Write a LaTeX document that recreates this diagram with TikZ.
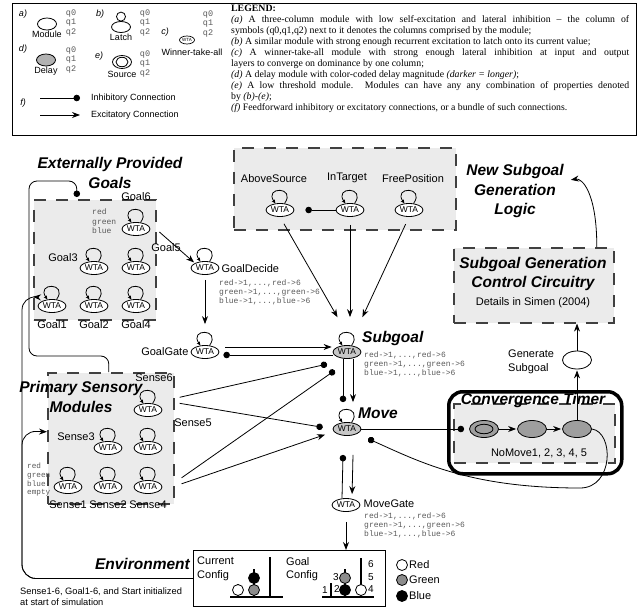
\documentclass[tikz,border=0pt]{standalone}
\usepackage{fontspec}
\setmainfont{Liberation Serif}
\setsansfont{Liberation Sans}
\setmonofont{Liberation Mono}
\usetikzlibrary{positioning,arrows.meta,shapes.geometric}

\tikzset{
  wta/.style={ellipse, draw, line width=0.8pt, fill=white, inner sep=0pt,
    minimum width=28pt, minimum height=13pt, font=\sffamily\fontsize{8.5}{9}\selectfont},
  slowwta/.style={wta, fill=black!22},
  delaymod/.style={ellipse, draw, line width=0.8pt, fill=black!38,
    minimum width=29pt, minimum height=17pt},
  panel/.style={draw=black!75, line width=1.6pt, dash pattern=on 12pt off 10pt, fill=black!8},
  heading/.style={font=\sffamily\bfseries\itshape\fontsize{15.5}{19.5}\selectfont, align=center, inner sep=1pt},
  lbl/.style={font=\sffamily\fontsize{11}{13.5}\selectfont, inner sep=1pt},
  legtxt/.style={font=\sffamily\fontsize{9}{10}\selectfont, inner sep=1pt},
  code/.style={font=\ttfamily\fontsize{8}{9.3}\selectfont, text=black!65, align=left, inner sep=0pt, anchor=north west},
  qcol/.style={font=\ttfamily\fontsize{8.5}{9.7}\selectfont, text=black!65, align=center, inner sep=0pt},
  exc/.style={-{Stealth[length=8pt,width=6pt]}, line width=0.8pt, shorten >=1pt},
  inh/.style={-{Circle[length=6.5pt]}, line width=0.8pt, shorten >=4pt},
  selfloop/.style={-{Stealth[length=4pt,width=3.5pt]}, line width=0.8pt},
}

\begin{document}
\begin{tikzpicture}[x=1pt, y=-1pt]
  \useasboundingbox (0,0) rectangle (639,610);

  % legend
  \node[draw, line width=1.4pt, anchor=north west, minimum width=624pt, minimum height=132pt] (legend) at (12,3) {};
  \node[anchor=north west, inner sep=0pt, text width=398pt, align=justify,
    font=\fontsize{9.8}{11}\selectfont] (legendText) at (231,5) {\parindent=0pt
    \textbf{LEGEND:}\par
    \textit{(a)} A three-column module with low self-excitation and lateral inhibition -- the column of\linebreak
    symbols (q0,q1,q2) next to it denotes the columns comprised by the module;\par
    \textit{(b)} A similar module with strong enough recurrent excitation to latch onto its current value;\par
    \textit{(c)} A winner-take-all module with strong enough lateral inhibition at input and output\linebreak
    layers to converge on dominance by one column;\par
    \textit{(d)} A delay module with color-coded delay magnitude \textit{(darker = longer)};\par
    \textit{(e)} A low threshold module. Modules can have any any combination of properties denoted\linebreak
    by \textit{(b)-(e)};\par
    \textit{(f)} Feedforward inhibitory or excitatory connections, or a bundle of such connections.};

  \node[legtxt, font=\sffamily\itshape\fontsize{9}{10}\selectfont] at (23,14) {a)};
  \node[ellipse, draw, line width=0.8pt, minimum width=19pt, minimum height=12pt] (lgModule) at (47,24) {};
  \node[legtxt] at (47,34) {Module};
  \node[qcol] at (71,23) {q0\\q1\\q2};
  \node[legtxt, font=\sffamily\itshape\fontsize{9}{10}\selectfont] at (100,14) {b)};
  \node[ellipse, draw, line width=0.8pt, minimum width=19pt, minimum height=11pt] (lgLatch) at (121,27) {};
  \draw[line width=0.8pt] ([yshift=4.5pt]lgLatch.north) circle[radius=4.5pt];
  \node[legtxt] at (121,37) {Latch};
  \node[qcol] at (145,23) {q0\\q1\\q2};
  \node[legtxt, font=\sffamily\itshape\fontsize{9}{10}\selectfont] at (165,32) {c)};
  \node[ellipse, draw, line width=0.7pt, inner sep=0pt, minimum width=15pt, minimum height=8pt,
    font=\sffamily\fontsize{4.5}{5}\selectfont] (lgWta) at (187,40) {WTA};
  \node[legtxt] at (192,52) {Winner-take-all};
  \node[qcol] at (208,24) {q0\\q1\\q2};
  \node[legtxt, font=\sffamily\itshape\fontsize{9}{10}\selectfont] at (23,49) {d)};
  \node[ellipse, draw, line width=0.8pt, fill=black!30, minimum width=19pt, minimum height=12pt] (lgDelay) at (46,60) {};
  \node[legtxt] at (46,71) {Delay};
  \node[qcol] at (71,60) {q0\\q1\\q2};
  \node[legtxt, font=\sffamily\itshape\fontsize{9}{10}\selectfont] at (99,56) {e)};
  \node[ellipse, draw, line width=0.8pt, minimum width=19pt, minimum height=13pt] (lgSource) at (122,62) {};
  \node[ellipse, draw, line width=0.8pt, minimum width=12pt, minimum height=7pt] at (lgSource) {};
  \node[legtxt] at (122,74) {Source};
  \node[qcol] at (145,64) {q0\\q1\\q2};
  \node[legtxt, font=\sffamily\itshape\fontsize{9}{10}\selectfont] at (23,103) {f)};
  \coordinate (inhA) at (40,98);
  \coordinate (inhB) at (80,98);
  \coordinate (excA) at (40,115);
  \coordinate (excB) at (80,115);
  \draw[inh, shorten >=0pt] (inhA) -- (inhB);
  \draw[exc, shorten >=0pt] (excA) -- (excB);
  \node[legtxt, anchor=west] at (90,98) {Inhibitory Connection};
  \node[legtxt, anchor=west] at (90,115) {Excitatory Connection};

  % panels
  \node[panel, anchor=north west, minimum width=122pt, minimum height=120pt] (goals) at (33,199) {};
  \node[panel, anchor=north west, minimum width=126pt, minimum height=131pt] (senses) at (47,372) {};
  \node[panel, anchor=north west, minimum width=222pt, minimum height=82pt] (conds) at (233,147) {};
  \node[panel, anchor=north west, minimum width=160pt, minimum height=75pt] (ctrl) at (453,247) {};
  \node[draw, line width=3.5pt, rounded corners=14pt, anchor=north west,
    minimum width=173pt, minimum height=82pt] (timerFrame) at (447,390) {};
  \node[panel, anchor=north west, minimum width=161pt, minimum height=59pt] (timerBox) at (453,403) {};
  \node[draw, line width=1pt, anchor=north west, minimum width=192pt, minimum height=56pt] (env) at (193,550) {};

  % titles
  \node[heading] at (110,173) {Externally Provided\\Goals};
  \node[heading] at (81,397) {Primary Sensory\\Modules};
  \node[heading] (newGoal) at (515,191) {New Subgoal\\Generation\\Logic};
  \node[heading] at (533,274) {Subgoal Generation\\Control Circuitry};
  \node[lbl] at (533,303) {Details in Simen (2004)};
  \node[heading] at (533,400) {Convergence Timer};
  \node[heading, anchor=east] at (191,564) {Environment};
  \node[heading, anchor=west] at (361,338) {Subgoal};
  \node[heading, anchor=west] at (357,413) {Move};

  % goal modules
  \node[wta] (goal1) at (52,306) {WTA};
  \node[wta] (goal2) at (94,306) {WTA};
  \node[wta] (goal3) at (94,268) {WTA};
  \node[wta] (goal4) at (136,306) {WTA};
  \node[wta] (goal5) at (136,268) {WTA};
  \node[wta] (goal6) at (136,229) {WTA};
  \node[lbl] at (136,197) {Goal6};
  \node[lbl] at (166,248) {Goal5};
  \node[lbl] at (63,258) {Goal3};
  \node[lbl, below=6pt of goal1] {Goal1};
  \node[lbl, below=6pt of goal2] {Goal2};
  \node[lbl, below=6pt of goal4] {Goal4};
  \node[code] at (92,209) {red\\green\\blue};

  % sensory modules
  \node[wta] (sense1) at (68,487) {WTA};
  \node[wta] (sense2) at (108,487) {WTA};
  \node[wta] (sense3) at (108,448) {WTA};
  \node[wta] (sense4) at (148,487) {WTA};
  \node[wta] (sense5) at (148,448) {WTA};
  \node[wta] (sense6) at (148,410) {WTA};
  \node[lbl] at (154,378) {Sense6};
  \node[lbl] at (193,423) {Sense5};
  \node[lbl] at (76,437) {Sense3};
  \node[lbl, below=6pt of sense1] {Sense1};
  \node[lbl, below=6pt of sense2] {Sense2};
  \node[lbl, below=6pt of sense4] {Sense4};
  \node[code, font=\ttfamily\fontsize{7.7}{8.7}\selectfont] at (27,463) {red\\green\\blue\\empty};

  % conditions
  \node[wta] (aboveSrc) at (280,210) {WTA};
  \node[wta] (inTarget) at (350,210) {WTA};
  \node[wta] (freePos) at (409,210) {WTA};
  \node[lbl, above=19pt of aboveSrc, xshift=-6pt] {AboveSource};
  \node[lbl, above=19pt of inTarget, xshift=-3pt] {InTarget};
  \node[lbl, above=19pt of freePos, xshift=4pt] {FreePosition};

  % goal selection and moves
  \node[wta] (goalDecide) at (205,268) {WTA};
  \node[lbl, right=1pt of goalDecide, yshift=-1pt] {GoalDecide};
  \node[code] at (219,279) {red->1,...,red->6\\green->1,...,green->6\\blue->1,...,blue->6};
  \node[wta] (goalGate) at (205,352) {WTA};
  \node[lbl, left=1pt of goalGate] {GoalGate};
  \node[slowwta] (subgoal) at (347,352) {WTA};
  \node[code] at (364,351) {red->1,...,red->6\\green->1,...,green->6\\blue->1,...,blue->6};
  \node[slowwta] (move) at (347,429) {WTA};
  \node[wta] (moveGate) at (346,505) {WTA};
  \node[lbl, right=2pt of moveGate, yshift=1pt] {MoveGate};
  \node[code] at (364,512) {red->1,...,red->6\\green->1,...,green->6\\blue->1,...,blue->6};
  \coordinate (subTop) at ([yshift=27pt]subgoal.north);

  % timer
  \node[delaymod] (t1) at (484,429) {};
  \node[ellipse, draw, line width=0.8pt, fill=black!38, minimum width=18pt, minimum height=9pt] at (t1) {};
  \node[delaymod] (t2) at (532,429) {};
  \node[delaymod] (t3) at (577,429) {};
  \node[lbl] at (539,453) {NoMove1, 2, 3, 4, 5};
  \node[ellipse, draw, line width=0.8pt, fill=white, minimum width=29pt, minimum height=18pt] (gen) at (577,360) {};
  \node[lbl, align=left, anchor=west] at (507,362) {Generate\\Subgoal};

  % self loops
  \foreach \n in {goal1,goal2,goal3,goal4,goal5,goal6,sense1,sense2,sense3,sense4,sense5,sense6,aboveSrc,inTarget,freePos,goalDecide,goalGate,subgoal,move}
    \draw[selfloop] (\n.55) .. controls +(55:21pt) and +(125:21pt) .. (\n.125);

  % connections
  \draw[inh, shorten >=2pt, rounded corners=8pt] ([xshift=-2pt]senses.north) |- (29,356) -- (29,181) -| ([xshift=-18pt]goals.north);
  \draw[exc, shorten >=0pt, rounded corners=14pt] (env.west) -| (22,431) -- ([yshift=6.5pt]senses.west);
  \draw[exc, shorten >=0pt, rounded corners=14pt] (env.west) -| (22,296) -- ([yshift=-37pt]goals.west);
  \draw[exc] ([xshift=9pt,yshift=-3pt]goal6.east) -- (goalDecide.north west);
  \draw[exc, shorten <=5pt] (goalDecide.south) -- ([yshift=20pt]goalGate.north);
  \draw[exc, shorten <=6pt] ([yshift=5pt]goalGate.east) -- ([yshift=5pt]subgoal.west);
  \draw[inh] ([yshift=-3pt]subgoal.west) -- ([yshift=-3pt]goalGate.east);
  \draw[inh, shorten >=11pt] (inTarget) -- (aboveSrc);
  \draw[exc, shorten <=8pt] (aboveSrc.south) -- ([xshift=-9pt]subTop);
  \draw[exc, shorten <=8pt] (inTarget.south) -- (inTarget.south |- subTop);
  \draw[exc, shorten <=8pt] (freePos.south) -- ([xshift=15pt]subTop);
  \draw[inh, shorten >=10pt] ([xshift=5pt,yshift=41pt]senses.east) -- ([yshift=-5pt]subgoal.south west);
  \draw[inh, shorten >=10pt] ([xshift=5pt,yshift=35pt]senses.east) -- (move.west);
  \draw[inh, shorten >=15pt] ([xshift=7pt,yshift=-39.5pt]senses.east) -- ([yshift=-3pt]subgoal.south);
  \draw[exc, shorten >=8pt] ([xshift=7pt,yshift=-45.5pt]senses.east) -- ([yshift=-3pt]move.west);
  \draw[inh, shorten >=0pt] ([xshift=-4pt]subgoal.south) -- ([xshift=-4pt,yshift=20pt]move.north);
  \draw[exc, shorten >=0pt] ([xshift=6pt]subgoal.south) -- ([xshift=6pt,yshift=20pt]move.north);
  \draw[inh, shorten >=0pt] ([xshift=-4pt]moveGate.north) -- ([xshift=-4pt,yshift=-19pt]move.south);
  \draw[exc, shorten >=4pt] ([xshift=6pt,yshift=-19pt]move.south) -- ([xshift=6pt]moveGate.north);
  \draw[exc, shorten <=10pt, shorten >=0pt] (moveGate.south) -- (moveGate.south |- env.north);
  \draw[inh, shorten >=5pt] (move) -- (t1);
  \path[exc] (t1) edge (t2)
             (t2) edge (t3);
  \draw[exc] (t3.north) -- (gen.south);
  \draw[exc, shorten >=0pt] (gen.north) -- (gen.north |- ctrl.south);
  \draw[exc] ([xshift=63pt]ctrl.north) .. controls +(0pt,55pt) and +(12pt,2pt) .. ([xshift=5pt,yshift=11pt]newGoal.east);
  \draw[inh, shorten >=12pt] (t3.east) .. controls (614,432) and (614,488) .. (580,488)
    .. controls (470,488) and (420,462) .. (move.south east);

  % environment
  \node[lbl, align=left, anchor=west] at (196,569) {Current\\Config};
  \node[lbl, align=left, anchor=west] at (285,569) {Goal\\Config};
  \draw[line width=2pt] (230,597) -- (283,597);
  \draw[line width=2.4pt] (270,597) -- (270,557);
  \draw[line width=2.4pt] (254,597) -- (254,569);
  \draw[line width=2.4pt] (238,597) -- (238,584);
  \filldraw[fill=white, line width=0.8pt] (238,590) circle[radius=5.5pt];
  \filldraw[fill=black!45, line width=0.8pt] (254,590) circle[radius=5.5pt];
  \filldraw[fill=black, line width=0.8pt] (254,578) circle[radius=5.5pt];
  \draw[line width=2pt] (322,597) -- (374,597);
  \draw[line width=2.4pt] (331,597) -- (331,583);
  \draw[line width=2.4pt] (345,597) -- (345,569);
  \draw[line width=2.4pt] (361,597) -- (361,558);
  \filldraw[fill=black, line width=0.8pt] (345,590) circle[radius=5.5pt];
  \filldraw[fill=black!45, line width=0.8pt] (345,578) circle[radius=5.5pt];
  \filldraw[fill=white, line width=0.8pt] (361,590) circle[radius=5.5pt];
  \node[lbl, font=\sffamily\fontsize{10}{11}\selectfont] at (325,590) {1};
  \node[lbl, font=\sffamily\fontsize{10}{11}\selectfont] at (337,589) {2};
  \node[lbl, font=\sffamily\fontsize{10}{11}\selectfont] at (336,577) {3};
  \node[lbl, font=\sffamily\fontsize{10}{11}\selectfont] at (371,589) {4};
  \node[lbl, font=\sffamily\fontsize{10}{11}\selectfont] at (371,577) {5};
  \node[lbl, font=\sffamily\fontsize{10}{11}\selectfont] at (371,564) {6};
  \filldraw[fill=white, line width=0.8pt] (402,565) circle[radius=5.5pt];
  \filldraw[fill=black!45, line width=0.8pt] (402,580) circle[radius=5.5pt];
  \filldraw[fill=black, line width=0.8pt] (402,596) circle[radius=5.5pt];
  \node[lbl, anchor=west] at (408,565) {Red};
  \node[lbl, anchor=west] at (408,580) {Green};
  \node[lbl, anchor=west] at (408,596) {Blue};
  \node[anchor=north west, inner sep=0pt, align=left, font=\sffamily\fontsize{9.3}{10.5}\selectfont] at (20,588)
    {Sense1-6, Goal1-6, and Start initialized\\at start of simulation};
\end{tikzpicture}
\end{document}
